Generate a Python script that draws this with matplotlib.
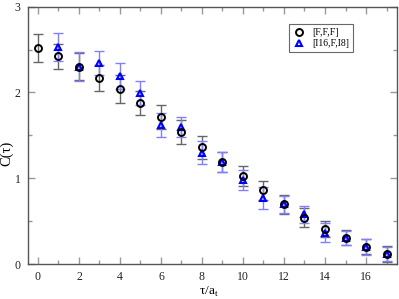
import matplotlib
matplotlib.use("Agg")
import matplotlib.pyplot as plt
from matplotlib.ticker import MultipleLocator

plt.rcParams['font.family'] = ['Liberation Serif', 'DejaVu Serif']
plt.rcParams['mathtext.fontset'] = 'custom'
plt.rcParams['mathtext.rm'] = 'Liberation Serif'

x_fff = [0, 1, 2, 3, 4, 5, 6, 7, 8, 9, 10, 11, 12, 13, 14, 15, 16, 17]
y_fff = [2.52, 2.42, 2.30, 2.17, 2.04, 1.88, 1.71, 1.54, 1.36, 1.19, 1.03, 0.86, 0.70, 0.54, 0.41, 0.31, 0.205, 0.12]
e_fff = [0.16, 0.15, 0.16, 0.15, 0.16, 0.14, 0.14, 0.14, 0.13, 0.12, 0.12, 0.11, 0.11, 0.11, 0.09, 0.09, 0.09, 0.09]

x_ifi = [1, 2, 3, 4, 5, 6, 7, 8, 9, 10, 11, 12, 13, 14, 15, 16, 17]
y_ifi = [2.53, 2.30, 2.34, 2.19, 1.99, 1.62, 1.60, 1.30, 1.19, 0.98, 0.77, 0.70, 0.58, 0.37, 0.31, 0.20, 0.12]
e_ifi = [0.16, 0.17, 0.14, 0.15, 0.14, 0.14, 0.12, 0.13, 0.12, 0.12, 0.13, 0.10, 0.10, 0.11, 0.08, 0.09, 0.08]

labels = ['[F,F,F]', '[I16,F,I8]']

fig = plt.figure(figsize=(3.99, 2.99), dpi=100)
ax = fig.add_axes([0.0694, 0.116, 0.925, 0.862])

ax.errorbar(x_fff, y_fff, yerr=e_fff, fmt='none', ecolor='#666666', elinewidth=1.0, capsize=3.5, capthick=1.0, zorder=2)
ax.errorbar(x_ifi, y_ifi, yerr=e_ifi, fmt='none', ecolor='#8080ff', elinewidth=1.0, capsize=3.5, capthick=1.0, zorder=2)
ax.plot(x_fff, y_fff, 'o', mfc='none', mec='black', mew=1.4, ms=5, label=labels[0], zorder=4)
ax.plot(x_ifi, y_ifi, '^', mfc='none', mec='#0000ff', mew=1.5, ms=5, label=labels[1], zorder=3)

ax.set_xlim(-0.5, 17.5)
ax.set_ylim(0, 3)
ax.xaxis.set_major_locator(MultipleLocator(2))
ax.xaxis.set_minor_locator(MultipleLocator(1))
ax.yaxis.set_major_locator(MultipleLocator(1))
ax.yaxis.set_minor_locator(MultipleLocator(0.5))
ax.tick_params(which='both', direction='in', top=True, right=True, color='#999999', labelsize=8.5, labelcolor='#222222')
ax.tick_params(which='major', length=5, width=1.0, pad=5)
ax.tick_params(which='minor', length=3, width=1.0)
for s in ax.spines.values():
    s.set_color('#555555')
    s.set_linewidth(1.0)

ax.set_xlabel(r'τ/a$_\mathrm{t}$', fontsize=9.5)
ax.set_ylabel('C(τ)', fontsize=10.5)
ax.xaxis.set_label_coords(0.49, -0.08)
ax.yaxis.label.set_verticalalignment('center')
ax.yaxis.set_label_coords(-0.056, 0.43)

leg = ax.legend(loc='upper left', bbox_to_anchor=(0.695, 0.95), fontsize=7, frameon=True,
                fancybox=False, edgecolor='#444444', handlelength=1.2, handletextpad=0.8,
                borderpad=0.4, labelspacing=0.2)
leg.get_frame().set_linewidth(0.8)

fig.savefig('out.png', dpi=100)
